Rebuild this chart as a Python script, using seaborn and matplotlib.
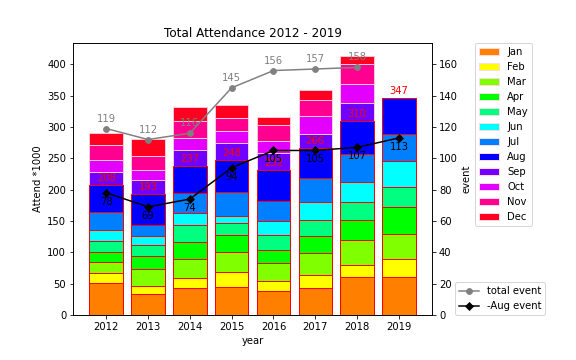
import numpy as np
import pandas as pd
import matplotlib
matplotlib.use('Agg')
import matplotlib.pyplot as plt
import seaborn as sns
from matplotlib.patches import Patch

years = ['2012', '2013', '2014', '2015', '2016', '2017', '2018', '2019']
month_names = ['Jan', 'Feb', 'Mar', 'Apr', 'May', 'Jun',
               'Jul', 'Aug', 'Sep', 'Oct', 'Nov', 'Dec']

# attendance per month (*1000)
jan = [51, 33, 43, 45, 38, 43, 61, 60]
feb = [16, 14, 16, 23, 17, 21, 19, 30]
mar = [17, 26, 30, 32, 28, 35, 39, 39]
apr = [17, 21, 27, 27, 21, 27, 32, 43]
may = [17, 17, 27, 20, 24, 26, 30, 32]
jun = [17, 15, 20, 11, 22, 28, 31, 41]
jul = [29, 17, 32, 38, 32, 39, 45, 44]
aug = [44, 50, 42, 52, 50, 47, 53, 58]
sep = [20, 23, 27, 27, 27, 23, 29, 0]
oct_ = [20, 15, 18, 19, 18, 29, 30, 0]
nov = [23, 23, 28, 21, 26, 25, 31, 0]
dec = [20, 27, 22, 20, 13, 16, 13, 0]

total_event = [119, 112, 116, 145, 156, 157, 158, np.nan]
aug_event = [78, 69, 74, 94, 105, 105, 107, 113]

month_colors = ['#ff8000', '#ffff00', '#80ff00', '#00ff00', '#00ff80', '#00ffff',
                '#0080ff', '#0000ff', '#7000ff', '#e400ff', '#ff0090', '#ff0020']

monthly = [jan, feb, mar, apr, may, jun, jul, aug, sep, oct_, nov, dec]
df = pd.DataFrame(np.array(monthly).T, columns=month_names)
df['year'] = years
cum = df[month_names].cumsum(axis=1)

fig, ax = plt.subplots(figsize=(8, 5), dpi=72)
plt.subplots_adjust(left=0.127, right=0.75, top=0.88, bottom=0.125)

# stacked bars: draw cumulative totals from Dec down to Jan
for i in range(11, -1, -1):
    m = month_names[i]
    ec = 'red' if i <= 7 else '#ffc8d8'
    sns.barplot(x=df['year'], y=cum[m], color=month_colors[i], saturation=1,
                edgecolor=ec, linewidth=1, ax=ax)

ax.set_xlim(-0.79, 7.79)
ax.set_xlabel('year')
ax.set_ylabel('Attend *1000')
ax.set_title('Total Attendance 2012 - 2019')

# Jan-Aug sum labels
for i, v in enumerate(cum['Aug']):
    ax.annotate(str(int(v)), (i, v), xytext=(0, 2), textcoords='offset points',
                ha='center', va='bottom', color='red', fontsize=10)

ax2 = ax.twinx()
pos = np.arange(len(years))
sns.lineplot(x=pos, y=total_event, marker='o', color='gray', markersize=6,
             markeredgecolor='gray', linewidth=1.5, label='total event', ax=ax2)
sns.lineplot(x=pos, y=aug_event, marker='D', color='black', markersize=6,
             markeredgecolor='black', linewidth=1.5, label='-Aug event', ax=ax2)
ax2.set_ylim(0, ax.get_ylim()[1] / 2.5)
ax2.set_ylabel('event')

for i, v in enumerate(total_event):
    if not np.isnan(v):
        ax2.annotate(str(int(v)), (i, v), xytext=(0, 5), textcoords='offset points',
                     ha='center', va='bottom', color='gray', fontsize=10)
for i, v in enumerate(aug_event):
    ax2.annotate(str(int(v)), (i, v), xytext=(0, -4), textcoords='offset points',
                 ha='center', va='top', color='black', fontsize=10)

handles = [Patch(facecolor=c, edgecolor='#ffd8e0', label=m)
           for c, m in zip(month_colors, month_names)]
ax.legend(handles=handles, loc='upper left', bbox_to_anchor=(1.12, 1), borderaxespad=0)
ax2.legend(loc='lower left', bbox_to_anchor=(1.064, 0), borderaxespad=0)

plt.savefig('out.png', dpi=72)
